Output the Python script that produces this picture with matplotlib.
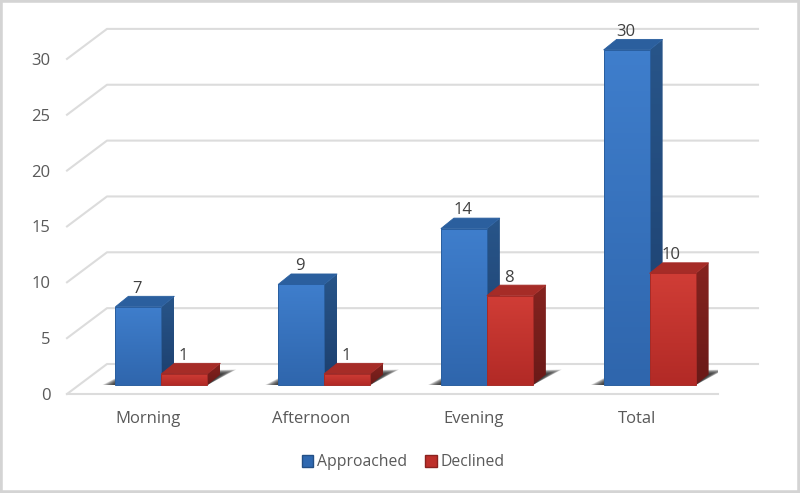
import numpy as np
import matplotlib
matplotlib.use('Agg')
import matplotlib.pyplot as plt
from matplotlib.patches import Polygon, Patch, Rectangle
from matplotlib.colors import LinearSegmentedColormap

plt.rcParams['font.family'] = ['Open Sans', 'DejaVu Sans']

# data
categories = ['Morning', 'Afternoon', 'Evening', 'Total']
approached = [7, 9, 14, 30]
declined = [1, 1, 8, 10]
yticks = [0, 5, 10, 15, 20, 25, 30]

# pixels per data unit, used for the fake 3d depth
sx = 1/162.75
sy = 1/11.17
wall_dx, wall_dy = 40*sx, 30*sy     # floor depth
base_dx, base_dy = 13*sx, 9*sy      # front of the bars from front of the floor
bar_dx, bar_dy = 13*sx, 10.5*sy     # bar depth
bar_w = 46*sx

grid = '#dcdcdc'
txt = '#595959'

blue = {'front': ['#3f7ecc', '#2f66ad'], 'side': ['#285589', '#1c3f6e'], 'top': '#2b5f9e', 'edge': '#2a5f9f'}
red = {'front': ['#d03d36', '#b22a26'], 'side': ['#85231f', '#6a1a18'], 'top': '#a62c27', 'edge': '#a52b27'}

fig = plt.figure(figsize=(8, 4.93), dpi=100)
ax = fig.add_axes([67/800, (493-394)/493, 651/800, 375/493])
xlo, xhi = -0.5, 3.5
ylo, yhi = 0, 375*sy


def grad_poly(pts, cols, z):
    # polygon filled with a vertical gradient
    pts = np.array(pts)
    cm = LinearSegmentedColormap.from_list('g', cols)
    im = ax.imshow(np.linspace(0, 1, 64)[:, None], cmap=cm, aspect='auto', zorder=z,
                   extent=[pts[:, 0].min(), pts[:, 0].max(), pts[:, 1].min(), pts[:, 1].max()],
                   origin='upper')
    p = Polygon(pts, closed=True, transform=ax.transData, fc='none', ec='none')
    ax.add_patch(p)
    im.set_clip_path(p)


def bar3d(x, v, st, z):
    y = base_dy
    x1 = x+bar_w
    grad_poly([(x1, y), (x1+bar_dx, y+bar_dy), (x1+bar_dx, y+v+bar_dy), (x1, y+v)], st['side'], z)
    ax.add_patch(Polygon([(x, y+v), (x1, y+v), (x1+bar_dx, y+v+bar_dy), (x+bar_dx, y+v+bar_dy)],
                         fc=st['top'], ec=st['edge'], lw=0.6, zorder=z+0.1))
    grad_poly([(x, y), (x1, y), (x1, y+v), (x, y+v)], st['front'], z+0.2)
    ax.add_patch(Rectangle((x, y), bar_w, v, fc='none', ec=st['edge'], lw=0.7, zorder=z+0.3))


def shadow(xl, xr, z):
    # soft shadow on the floor, stacked from a few transparent polygons
    y = base_dy
    for k in np.linspace(1, 0.1, 14):
        ax.add_patch(Polygon([(xl-13*sx*k, y), (xl+bar_dx, y+bar_dy+3*sy*k),
                              (xr+bar_dx+16*sx*k, y+bar_dy+5*sy*k), (xr, y)],
                             fc='#202020', ec='none', alpha=0.12, zorder=z))


# walls and floor
for v in yticks:
    ax.plot([xlo, xlo+wall_dx, xhi+wall_dx], [v, v+wall_dy, v+wall_dy], color=grid, lw=1.5,
            clip_on=False, zorder=1)

for i, (a, d) in enumerate(zip(approached, declined)):
    xl = i-bar_w+base_dx
    xm = i+base_dx
    shadow(xl, xm+bar_w, 2)
    bar3d(xl, a, blue, 3+i)
    bar3d(xm, d, red, 3.5+i)
    ax.annotate(str(a), (xl+bar_w/2, base_dy+a+bar_dy), xytext=(-0.8, 5.5), textcoords='offset points',
                ha='center', va='center', fontsize=12, color='#404040', zorder=20)
    ax.annotate(str(d), (xm+bar_w/2, base_dy+d+bar_dy), xytext=(-0.8, 5.5), textcoords='offset points',
                ha='center', va='center', fontsize=12, color='#404040', zorder=20)

ax.set_xlim(xlo, xhi)
ax.set_ylim(ylo, yhi)
ax.set_xticks(range(len(categories)))
ax.set_xticklabels(categories)
ax.set_yticks(yticks)
ax.tick_params(axis='both', length=0, labelsize=12, labelcolor=txt)
ax.tick_params(axis='x', pad=12.5)
ax.tick_params(axis='y', pad=12)
for s in ['top', 'left', 'right']:
    ax.spines[s].set_visible(False)
ax.spines['bottom'].set_color(grid)
ax.spines['bottom'].set_linewidth(1.5)
ax.patch.set_alpha(0)

handles = [Patch(fc='#2f68b0', ec='#234f85', label='Approached'),
           Patch(fc='#bd2f2a', ec='#8a221f', label='Declined')]
fig.legend(handles=handles, loc='center', bbox_to_anchor=(403/800, (493-462)/493), ncol=2, frameon=False,
           fontsize=11.3, labelcolor=txt, handlelength=0.75, handleheight=0.8, handletextpad=0.2,
           columnspacing=1.2)

# outer frame of the screenshot
fig.add_artist(Rectangle((0, 0), 1, 1, transform=fig.transFigure, fc='none', ec='#d4d4d4', lw=4))

fig.savefig('out.png', dpi=100)
